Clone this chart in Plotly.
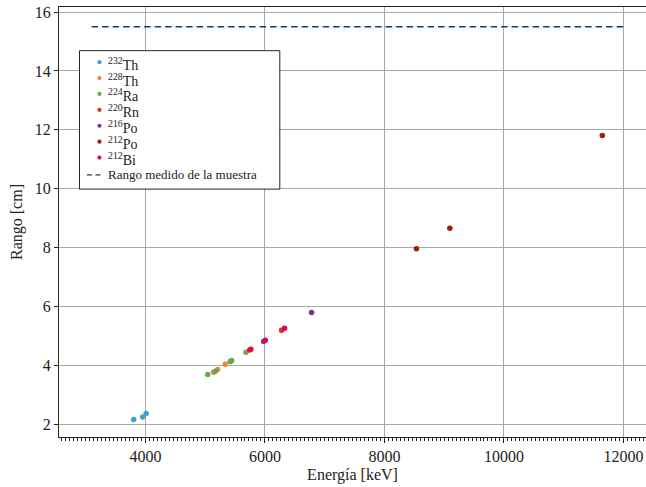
import plotly.graph_objects as go

# Alpha energies [keV] and ranges [cm] for the thorium chain
th232_E = [3804, 3955, 4012]
th232_R = [2.16, 2.25, 2.37]

th228_E = [5142, 5209, 5338, 5423]
th228_R = [3.77, 3.86, 4.04, 4.13]

ra224_E = [5042, 5171, 5421, 5443, 5684]
ra224_R = [3.69, 3.80, 4.13, 4.17, 4.45]

rn220_E = [5745, 6279]
rn220_R = [4.52, 5.19]

po216_E = [5978, 6781]
po216_R = [4.81, 5.80]

po212_E = [8537, 9095, 11647]
po212_R = [7.96, 8.66, 11.81]

bi212_E = [5765, 6007, 6329]
bi212_R = [4.55, 4.85, 5.26]

measured_E = [3100, 12000]
measured_R = [15.5, 15.5]
measured_label = "Rango medido de la muestra"

series = [
    ("<sup>232</sup>Th", th232_E, th232_R, "#4a9bcd"),
    ("<sup>228</sup>Th", th228_E, th228_R, "#f0834a"),
    ("<sup>224</sup>Ra", ra224_E, ra224_R, "#62ab4f"),
    ("<sup>220</sup>Rn", rn220_E, rn220_R, "#e8291c"),
    ("<sup>216</sup>Po", po216_E, po216_R, "#6f3b8f"),
    ("<sup>212</sup>Po", po212_E, po212_R, "#a01c0c"),
    ("<sup>212</sup>Bi", bi212_E, bi212_R, "#e8005a"),
]
line_color = "#0a4076"

FONT = "Liberation Serif"
W, H = 646, 487
ML, MR, MT, MB = 58.5, 0, 7.3, 49.5
PW, PH = W - ML - MR, H - MT - MB


def px(x):
    """pixel column -> paper x"""
    return (x - ML) / PW


def py(y):
    """pixel row -> paper y"""
    return (H - MB - y) / PH


fig = go.Figure()
for name, xs, ys, col in series:
    fig.add_trace(go.Scatter(
        x=xs, y=ys, mode="markers", name=name,
        marker=dict(color=col, size=5.5, line=dict(width=0)),
    ))

fig.add_trace(go.Scatter(
    x=measured_E, y=measured_R, mode="lines", name=measured_label,
    line=dict(color=line_color, width=1.3, dash="6.5px,4px"),
))

# Legend box drawn by hand so its rows sit closer together
shapes = [dict(type="rect", xref="paper", yref="paper",
               x0=px(79), x1=px(279.5), y0=py(189.5), y1=py(51),
               line=dict(color="#222", width=1), fillcolor="white",
               layer="above")]
annotations = []
row0, step = 62.5, 15.9
for i, (name, _, _, col) in enumerate(series):
    yc = row0 + i * step
    r = 2.1
    shapes.append(dict(type="circle", xref="paper", yref="paper",
                       x0=px(99 - r), x1=px(99 + r),
                       y0=py(yc + r), y1=py(yc - r),
                       fillcolor=col, line=dict(width=0), layer="above"))
    annotations.append(dict(xref="paper", yref="paper", x=px(105.5),
                            y=py(yc + 1.5), xanchor="left", yanchor="middle",
                            text=name, showarrow=False,
                            font=dict(family=FONT, size=14, color="#222")))
yl = row0 + len(series) * step + 1.5
shapes.append(dict(type="line", xref="paper", yref="paper",
                   x0=px(86.5), x1=px(101), y0=py(yl), y1=py(yl),
                   line=dict(color=line_color, width=1.3, dash="5px,3.5px"),
                   layer="above"))
annotations.append(dict(xref="paper", yref="paper", x=px(105.5), y=py(yl),
                        xanchor="left", yanchor="middle", text=measured_label,
                        showarrow=False,
                        font=dict(family=FONT, size=13, color="#222")))

fig.update_layout(
    width=W, height=H,
    margin=dict(l=ML, r=MR, t=MT, b=MB),
    paper_bgcolor="white", plot_bgcolor="white",
    font=dict(family=FONT, size=15, color="#222"),
    showlegend=False,
    shapes=shapes, annotations=annotations,
)

fig.update_xaxes(
    range=[2554, 12378],
    tickvals=[4000, 6000, 8000, 10000, 12000],
    ticktext=["4000", "6000", "8000", "10000", "12000"],
    ticks="outside", ticklen=5, tickcolor="#222",
    minor=dict(dtick=200 / 3, tick0=0, ticks="outside", ticklen=3,
               tickcolor="#222", showgrid=False),
    showgrid=True, gridcolor="#a8a8a8", gridwidth=1,
    showline=True, linecolor="#222", linewidth=1, mirror=True,
    zeroline=False,
    title=dict(text="Energía [keV]", font=dict(family=FONT, size=16), standoff=4),
    tickfont=dict(family=FONT, size=16),
)

fig.update_yaxes(
    range=[1.568, 16.17],
    tickvals=[2, 4, 6, 8, 10, 12, 14, 16],
    ticks="outside", ticklen=4, tickcolor="#222",
    showgrid=True, gridcolor="#a8a8a8", gridwidth=1,
    showline=True, linecolor="#222", linewidth=1, mirror=False,
    zeroline=False,
    title=dict(text="Rango [cm]", font=dict(family=FONT, size=16), standoff=8),
    tickfont=dict(family=FONT, size=16),
)

fig.write_html("out.html")
